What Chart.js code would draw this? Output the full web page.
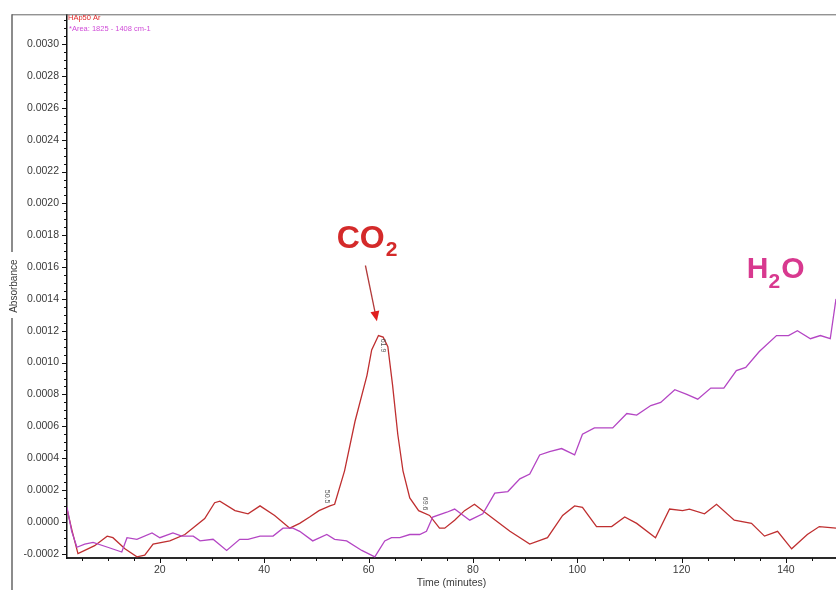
<!DOCTYPE html>
<html>
<head>
<meta charset="utf-8">
<script src="https://cdn.jsdelivr.net/npm/chart.js@4/dist/chart.umd.min.js"></script>
<style>
  html, body { margin: 0; padding: 0; background: #fff; }
  #wrap { width: 836px; height: 590px; position: relative; }
</style>
</head>
<body>
<div id="wrap"><canvas id="chart"></canvas></div>
<script>
// HAp50 Ar run, CO2 band absorbance vs time
const co2Time = [2.2, 3.2, 4.3, 5.6, 7.5, 9.9, 11.0, 13.3, 15.6, 17.1, 18.7, 21.9, 24.8, 26.7, 28.6,
  30.5, 31.5, 34.4, 36.9, 39.2, 42.0, 44.9, 46.8, 48.7, 50.5, 52.6, 53.5, 55.4, 57.4, 59.7, 60.6,
  61.9, 62.8, 63.7, 64.6, 65.6, 66.6, 67.9, 69.6, 71.7, 73.6, 74.6, 76.5, 78.4, 80.3, 81.9, 87.1,
  90.9, 94.3, 97.2, 99.5, 101.0, 103.7, 106.6, 109.1, 111.4, 115.0, 117.7, 120.2, 121.5, 124.4,
  126.7, 130.1, 133.4, 135.9, 138.4, 141.1, 144.1, 146.4, 149.6];
const co2Abs = [0.00008, -0.00006, -0.00020, -0.00018, -0.00015, -0.00009, -0.00010, -0.00017,
  -0.00022, -0.00021, -0.00014, -0.00012, -0.00008, -0.00003, 0.00002, 0.00012, 0.00013, 0.00007,
  0.00005, 0.00010, 0.00004, -0.00004, -0.00001, 0.00003, 0.00007, 0.00010, 0.00011, 0.00032,
  0.00063, 0.00092, 0.00108, 0.00117, 0.00116, 0.00110, 0.00086, 0.00055, 0.00032, 0.00015,
  0.00007, 0.00004, -0.00004, -0.00004, 0.00001, 0.00007, 0.00011, 0.00007, -0.00006, -0.00014,
  -0.00010, 0.00004, 0.00010, 0.00009, -0.00003, -0.00003, 0.00003, -0.00001, -0.00010, 0.00008,
  0.00007, 0.00008, 0.00005, 0.00011, 0.00001, -0.00001, -0.00009, -0.00006, -0.00017, -0.00008,
  -0.00003, -0.00004];

// integrated area 1825 - 1408 cm-1 (water)
const h2oTime = [2.2, 3.1, 4.1, 5.6, 7.2, 10.0, 12.7, 13.7, 15.6, 18.5, 20.0, 22.5, 24.2, 26.4,
  27.7, 30.2, 32.8, 35.3, 36.9, 39.2, 41.7, 43.6, 45.5, 46.8, 49.3, 52.0, 53.5, 55.8, 58.7, 61.2,
  63.1, 64.4, 66.0, 67.9, 69.8, 71.1, 72.3, 75.0, 76.5, 79.4, 81.9, 84.2, 86.7, 89.0, 90.9, 92.8,
  94.7, 97.0, 99.5, 101.0, 103.3, 106.8, 109.5, 111.4, 114.1, 116.0, 118.7, 121.0, 123.1, 125.6,
  128.1, 130.5, 132.3, 134.9, 138.2, 140.5, 142.2, 144.7, 146.6, 148.5, 149.6];
const h2oAbs = [0.00009, -0.00006, -0.00016, -0.00014, -0.00013, -0.00016, -0.00019, -0.00010,
  -0.00011, -0.00007, -0.00010, -0.00007, -0.00009, -0.00009, -0.00012, -0.00011, -0.00018,
  -0.00011, -0.00011, -0.00009, -0.00009, -0.00004, -0.00004, -0.00006, -0.00012, -0.00008,
  -0.00011, -0.00012, -0.00018, -0.00022, -0.00012, -0.00010, -0.00010, -0.00008, -0.00008,
  -0.00006, 0.00003, 0.00006, 0.00008, 0.00001, 0.00005, 0.00018, 0.00019, 0.00027, 0.00030,
  0.00042, 0.00044, 0.00046, 0.00042, 0.00055, 0.00059, 0.00059, 0.00068, 0.00067, 0.00073,
  0.00075, 0.00083, 0.00080, 0.00077, 0.00084, 0.00084, 0.00095, 0.00097, 0.00107, 0.00117,
  0.00117, 0.00120, 0.00115, 0.00117, 0.00115, 0.00140];

const peakTimes = [50.5, 61.9, 69.6];
const xTickValues = [20, 40, 60, 80, 100, 120, 140];
const yTickValues = [-0.0002, 0.0000, 0.0002, 0.0004, 0.0006, 0.0008, 0.0010, 0.0012, 0.0014,
  0.0016, 0.0018, 0.0020, 0.0022, 0.0024, 0.0026, 0.0028, 0.0030];

const RED = '#bf2f30';
const MAGENTA = '#b446c4';
const FONT = 'Arial, "Liberation Sans", sans-serif';

function toPoints(xs, ys) {
  return xs.map((x, i) => ({ x: x, y: ys[i] }));
}

// frame, minor ticks, legend text, species labels and peak markers
const decor = {
  id: 'decor',
  afterDraw(chart) {
    const ctx = chart.ctx;
    const xs = chart.scales.x;
    const ys = chart.scales.y;
    const area = chart.chartArea;
    ctx.save();

    // outer frame
    ctx.strokeStyle = '#8c8c8c';
    ctx.lineWidth = 2;
    ctx.beginPath();
    ctx.moveTo(12, area.top); ctx.lineTo(12, 252);
    ctx.moveTo(12, 318); ctx.lineTo(12, 590);
    ctx.stroke();
    ctx.lineWidth = 1;
    ctx.strokeStyle = '#666';
    ctx.beginPath();
    ctx.moveTo(12, area.top + 0.5); ctx.lineTo(area.right, area.top + 0.5);
    ctx.stroke();

    // y ticks
    ctx.strokeStyle = '#111';
    ctx.lineWidth = 1;
    ctx.beginPath();
    for (let k = -4; k <= 63; k++) {
      const v = k * 0.00005;
      const py = Math.round(ys.getPixelForValue(v)) + 0.5;
      if (py < area.top || py > area.bottom) continue;
      const len = (k % 4 === 0) ? 5 : 3;
      ctx.moveTo(area.left - len, py); ctx.lineTo(area.left, py);
    }
    // x ticks
    for (let t = 5; t < 150; t += 5) {
      const px = Math.round(xs.getPixelForValue(t)) + 0.5;
      const len = (t % 20 === 0) ? 5 : 3;
      ctx.moveTo(px, area.bottom); ctx.lineTo(px, area.bottom + len);
    }
    ctx.stroke();

    // legend
    ctx.font = '7.5px ' + FONT;
    ctx.textBaseline = 'middle';
    ctx.textAlign = 'left';
    ctx.fillStyle = '#e02a2a';
    ctx.fillText('HAp50 Ar', area.left + 1, 18);
    ctx.fillStyle = '#d04cd8';
    ctx.fillText('*Area: 1825 - 1408 cm-1', area.left + 2, 29);

    // CO2 label and arrow
    ctx.textBaseline = 'alphabetic';
    let px = xs.getPixelForValue(53.9);
    let py = ys.getPixelForValue(0.00172);
    ctx.fillStyle = '#d42a2a';
    ctx.font = 'bold 32px ' + FONT;
    ctx.fillText('CO', px, py);
    let w = ctx.measureText('CO').width;
    ctx.font = 'bold 21px ' + FONT;
    ctx.fillText('2', px + w + 1, py + 8);

    const ax0 = xs.getPixelForValue(59.4), ay0 = ys.getPixelForValue(0.00161);
    const ax1 = xs.getPixelForValue(61.6), ay1 = ys.getPixelForValue(0.00126);
    const ang = Math.atan2(ay1 - ay0, ax1 - ax0);
    ctx.strokeStyle = '#b23a3a';
    ctx.lineWidth = 1.3;
    ctx.beginPath();
    ctx.moveTo(ax0, ay0);
    ctx.lineTo(ax1 - 8 * Math.cos(ang), ay1 - 8 * Math.sin(ang));
    ctx.stroke();
    ctx.fillStyle = '#e01e1e';
    ctx.beginPath();
    ctx.moveTo(ax1, ay1);
    ctx.lineTo(ax1 - 10 * Math.cos(ang) + 4.5 * Math.sin(ang), ay1 - 10 * Math.sin(ang) - 4.5 * Math.cos(ang));
    ctx.lineTo(ax1 - 10 * Math.cos(ang) - 4.5 * Math.sin(ang), ay1 - 10 * Math.sin(ang) + 4.5 * Math.cos(ang));
    ctx.closePath();
    ctx.fill();

    // H2O label
    px = xs.getPixelForValue(132.5);
    py = ys.getPixelForValue(0.00153);
    ctx.fillStyle = '#d8398f';
    ctx.font = 'bold 30px ' + FONT;
    ctx.fillText('H', px, py);
    w = ctx.measureText('H').width;
    ctx.font = 'bold 21px ' + FONT;
    ctx.fillText('2', px + w, py + 10);
    const w2 = ctx.measureText('2').width;
    ctx.font = 'bold 30px ' + FONT;
    ctx.fillText('O', px + w + w2 + 1, py);

    // peak time markers
    const offsets = [[8, -14], [4, 10], [6, -7]];
    ctx.font = '7px ' + FONT;
    ctx.fillStyle = '#555';
    ctx.textAlign = 'center';
    ctx.textBaseline = 'middle';
    peakTimes.forEach((t, i) => {
      const idx = co2Time.indexOf(t);
      const lx = xs.getPixelForValue(t) + offsets[i][0];
      const ly = ys.getPixelForValue(co2Abs[idx]) + offsets[i][1];
      ctx.save();
      ctx.translate(lx, ly);
      ctx.rotate(Math.PI / 2);
      ctx.fillText(t.toFixed(1), 0, 0);
      ctx.restore();
    });

    ctx.restore();
  }
};

new Chart(document.getElementById('chart'), {
  type: 'line',
  data: {
    datasets: [
      {
        label: '*Area: 1825 - 1408 cm-1',
        data: toPoints(h2oTime, h2oAbs),
        borderColor: MAGENTA,
        borderWidth: 1.3,
        pointRadius: 0,
        tension: 0
      },
      {
        label: 'HAp50 Ar',
        data: toPoints(co2Time, co2Abs),
        borderColor: RED,
        borderWidth: 1.3,
        pointRadius: 0,
        tension: 0
      }
    ]
  },
  options: {
    responsive: true,
    maintainAspectRatio: false,
    animation: false,
    devicePixelRatio: 1,
    layout: { padding: { top: 13, left: 0, right: 0, bottom: 0 } },
    plugins: { legend: { display: false }, tooltip: { enabled: false } },
    scales: {
      x: {
        type: 'linear',
        min: 2.2,
        max: 149.6,
        afterBuildTicks: s => { s.ticks = xTickValues.map(v => ({ value: v })); },
        afterFit: s => { s.height = 32; },
        grid: { display: false, drawTicks: false },
        border: { display: true, color: '#2a2a2a', width: 2 },
        ticks: { padding: 6, color: '#3a3a3a', autoSkip: false, maxRotation: 0,
          font: { family: FONT, size: 10.5 } },
        title: { display: true, text: 'Time (minutes)', color: '#3a3a3a',
          font: { family: FONT, size: 10.5 }, padding: { top: 0, bottom: 1 } }
      },
      y: {
        type: 'linear',
        min: -0.0002275,
        max: 0.003188,
        afterBuildTicks: s => { s.ticks = yTickValues.map(v => ({ value: v })); },
        afterFit: s => { s.width = 67; },
        grid: { display: false, drawTicks: false },
        border: { display: true, color: '#111', width: 1.5 },
        ticks: { padding: 8, color: '#3a3a3a', callback: v => v.toFixed(4),
          font: { family: FONT, size: 10.5 } },
        title: { display: true, text: 'Absorbance', color: '#3a3a3a',
          font: { family: FONT, size: 10 }, padding: { top: 8, bottom: 0 } }
      }
    }
  },
  plugins: [decor]
});
</script>
</body>
</html>
